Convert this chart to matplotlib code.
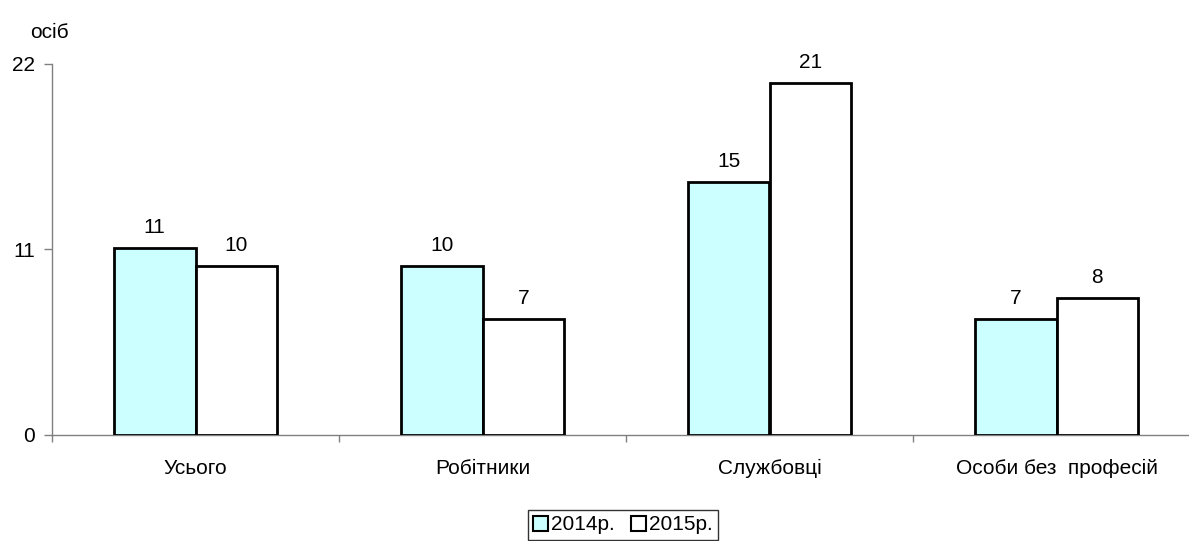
import matplotlib
matplotlib.use("Agg")
import matplotlib.pyplot as plt
import numpy as np

categories = ["Усього", "Робітники", "Службовці", "Особи без  професій"]
values_2014 = [11.1, 10.0, 15.0, 6.9]
values_2015 = [10.0, 6.9, 20.9, 8.1]
labels_2014 = ["11", "10", "15", "7"]
labels_2015 = ["10", "7", "21", "8"]
series_names = ["2014р.", "2015р."]
y_ticks = [0, 11, 22]

plt.rcParams["font.family"] = ["Liberation Sans", "DejaVu Sans"]
plt.rcParams["font.size"] = 15

fig = plt.figure(figsize=(11.89, 5.41), dpi=100)
ax = fig.add_axes([52 / 1189, 1 - 435 / 541, 1148 / 1189, 371 / 541])

x = np.arange(len(categories))
w = 0.285
ax.bar(x - w / 2, values_2014, w, color="#CCFFFF", edgecolor="black",
       linewidth=2, label=series_names[0], zorder=3)
ax.bar(x + w / 2, values_2015, w, color="white", edgecolor="black",
       linewidth=2, label=series_names[1], zorder=3)

for xi, v, t in zip(x - w / 2, values_2014, labels_2014):
    ax.text(xi, v + 0.65, t, ha="center", va="bottom", fontsize=15)
for xi, v, t in zip(x + w / 2, values_2015, labels_2015):
    ax.text(xi, v + 0.65, t, ha="center", va="bottom", fontsize=15)

ax.set_xlim(-0.5, len(categories) - 0.5)
ax.set_ylim(0, 22)
ax.set_yticks(y_ticks)
ax.set_yticklabels([str(t) for t in y_ticks])
ax.set_xticks(np.arange(len(categories) + 1) - 0.5, minor=True)
ax.set_xticks(x)
ax.set_xticklabels(categories)
ax.tick_params(axis="x", which="major", length=0, pad=17)
ax.tick_params(axis="x", which="minor", length=5, color="#808080", width=1)
ax.tick_params(axis="y", length=6, color="#808080", width=1, pad=6)

for side in ["top", "right"]:
    ax.spines[side].set_visible(False)
for side in ["left", "bottom"]:
    ax.spines[side].set_color("#808080")
    ax.spines[side].set_linewidth(1)

fig.text(30 / 1189, 1 - 32 / 541, "осіб", ha="left", va="center", fontsize=15)

leg = fig.legend(loc="center", bbox_to_anchor=(623 / 1189, 1 - 525 / 541),
                 ncol=2, frameon=True, fancybox=False, fontsize=15,
                 handlelength=0.7, handleheight=0.7, handletextpad=0.15,
                 columnspacing=0.8, borderpad=0.25, borderaxespad=0)
leg.get_frame().set_edgecolor("black")
leg.get_frame().set_linewidth(1)
for h in leg.legend_handles:
    h.set_linewidth(1.5)

fig.savefig("out.png", dpi=100)
